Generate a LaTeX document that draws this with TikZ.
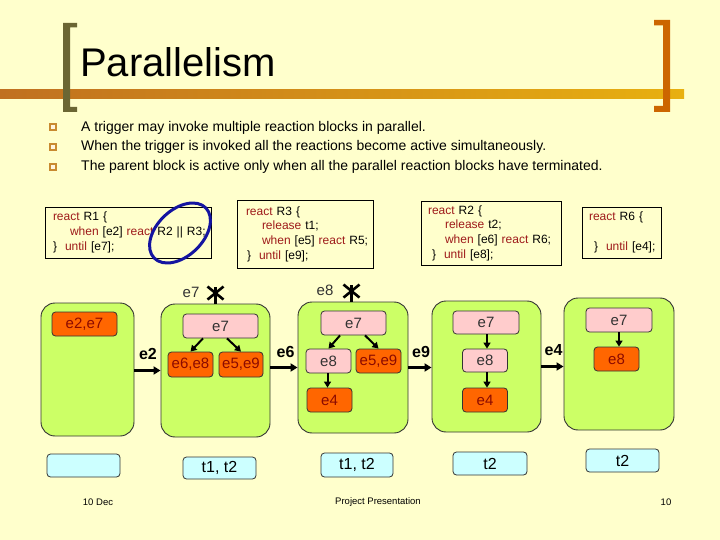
\documentclass[tikz,border=0pt]{standalone}
\usepackage{fontspec}
\setmainfont{Liberation Sans}
\usetikzlibrary{calc,arrows.meta}
\definecolor{bg}{HTML}{FFFFCC}
\definecolor{kwred}{HTML}{9E1A1A}
\definecolor{greenfill}{HTML}{CCFF66}
\definecolor{pinkfill}{HTML}{FFCCCC}
\definecolor{orangefill}{HTML}{FF6600}
\definecolor{bluefill}{HTML}{CCFFFF}
\definecolor{olivebr}{HTML}{6B6633}
\definecolor{orangebr}{HTML}{CC6600}
\definecolor{barleft}{HTML}{C07020}
\definecolor{barright}{HTML}{E8B010}
\definecolor{bulletc}{HTML}{C88A30}
\definecolor{darktxt}{HTML}{333333}
\definecolor{orangetxt}{HTML}{8B0A00}
\definecolor{ellblue}{HTML}{1414A0}
\newcommand\myfs[1]{\fontsize{#1}{#1}\selectfont}
\newcommand\kw[1]{\textcolor{kwred}{#1}}
\begin{document}
\begin{tikzpicture}[x=1pt,y=-1pt,
  bulletbox/.style={draw=bulletc, fill=bg!70!orange!30, line width=1.3pt, minimum size=6pt, inner sep=0pt},
  bullettext/.style={anchor=base west, inner sep=0pt, font=\myfs{14}},
  codebox/.style={draw=black, line width=0.8pt, inner xsep=0pt, inner ysep=0pt, align=left, font=\fontsize{12}{14.7}\selectfont},
  greenbox/.style={draw=darktxt, fill=greenfill, line width=0.9pt, rounded corners=14pt, inner sep=0pt},
  pinknode/.style={draw=darktxt, fill=pinkfill, text=darktxt, line width=0.8pt, rounded corners=3.5pt, inner sep=0pt, font=\myfs{15}},
  orangenode/.style={draw=darktxt, fill=orangefill, text=orangetxt, line width=0.8pt, rounded corners=3.5pt, inner sep=0pt, font=\myfs{15}},
  bluenode/.style={draw=darktxt, fill=bluefill, text=black, line width=0.8pt, rounded corners=3.5pt, inner sep=0pt, font=\myfs{16}},
  bigarrow/.style={line width=3pt, -{Triangle[length=7pt,width=8pt]}},
  smallarrow/.style={line width=2pt, -{Triangle[length=6pt,width=7pt]}},
  arrlabel/.style={font=\bfseries\myfs{16}, inner sep=0pt},
  killmark/.style={line width=2.6pt},
  evlabel/.style={font=\myfs{15}, text=darktxt, inner sep=0pt},
  footer/.style={font=\myfs{9.5}, inner sep=0pt}
]
\useasboundingbox (0,0) rectangle (720,540);
\fill[bg] (0,0) rectangle (720,540);

% header bar and brackets
\shade[left color=barleft, right color=barright] (0,90) rectangle (684,98.5);
\fill[olivebr] (77,23) -- (63,23) -- (63,112) -- (77,112) -- (77,107) -- (70,107) -- (70,27.5) -- (77,27.5) -- cycle;
\fill[orangebr] (654,20) -- (670,20) -- (670,112) -- (654,112) -- (654,106) -- (663,106) -- (663,25.5) -- (654,25.5) -- cycle;
\node[anchor=base west, inner sep=0pt, font=\myfs{40}] (title) at (80,77) {Parallelism};

% bullets
\node[bulletbox] (b1) at (53,127) {};
\node[bulletbox] (b2) at (53,147) {};
\node[bulletbox] (b3) at (53,167) {};
\node[bullettext] (t1) at (81,131.5) {A trigger may invoke multiple reaction blocks in parallel.};
\node[bullettext] (t2) at (81,151) {When the trigger is invoked all the reactions become active simultaneously.};
\node[bullettext] (t3) at (81,171) {The parent block is active only when all the parallel reaction blocks have terminated.};

% code boxes
\node[codebox, minimum width=166pt, text width=166pt, minimum height=51pt] (R1) at (128,232.5)
  {\hspace*{8pt}\kw{react} R1 \{\\
   \hspace*{25pt}\kw{when} [e2] \kw{react} R2 || R3;\\
   \hspace*{8pt}\}~~\kw{until} [e7];};
\node[codebox, minimum width=136pt, text width=136pt, minimum height=68pt] (R3) at (305,234)
  {\hspace*{9pt}\kw{react} R3 \{\\
   \hspace*{25pt}\kw{release} t1;\\
   \hspace*{25pt}\kw{when} [e5] \kw{react} R5;\\
   \hspace*{10pt}\}~~\kw{until} [e9];};
\node[codebox, minimum width=140pt, text width=140pt, minimum height=64pt] (R2) at (491,233)
  {\hspace*{7pt}\kw{react} R2 \{\\
   \hspace*{24pt}\kw{release} t2;\\
   \hspace*{24pt}\kw{when} [e6] \kw{react} R6;\\
   \hspace*{11pt}\}~~\kw{until} [e8];};
\node[codebox, minimum width=79pt, text width=79pt, minimum height=51pt] (R6) at (621.5,232.5)
  {\hspace*{7pt}\kw{react} R6 \{\\
   \strut\\
   \hspace*{12pt}\}~~\kw{until} [e4];};
\draw[ellblue, line width=3pt, rotate around={44:(180,233)}] (180,233) ellipse [x radius=36pt, y radius=23pt];

% green state boxes
\node[greenbox, minimum width=93pt, minimum height=133pt] (G1) at (87.5,369.5) {};
\node[greenbox, minimum width=109pt, minimum height=133pt] (G2) at (215.5,370.5) {};
\node[greenbox, minimum width=110pt, minimum height=131pt] (G3) at (353,367.5) {};
\node[greenbox, minimum width=109pt, minimum height=131pt] (G4) at (486.5,366.5) {};
\node[greenbox, minimum width=110pt, minimum height=132pt] (G5) at (619,364) {};

% inner nodes
\node[orangenode, minimum width=65pt, minimum height=24pt] (o1) at (84.5,324) {e2,e7};

\node[pinknode, minimum width=75pt, minimum height=24pt] (p2) at (220.5,326) {e7};
\node[orangenode, minimum width=45pt, minimum height=25pt] (o2a) at (190.5,364.5) {e6,e8};
\node[orangenode, minimum width=44pt, minimum height=25pt] (o2b) at (241,364.5) {e5,e9};

\node[pinknode, minimum width=65pt, minimum height=24pt] (p3) at (353.5,323) {e7};
\node[pinknode, minimum width=45pt, minimum height=24pt] (p3a) at (328.5,361) {e8};
\node[orangenode, minimum width=45pt, minimum height=24pt] (o3b) at (378.5,361) {e5,e9};
\node[orangenode, minimum width=45pt, minimum height=24pt] (o3c) at (329.5,400) {e4};

\node[pinknode, minimum width=66pt, minimum height=23pt] (p4) at (486,322.5) {e7};
\node[pinknode, minimum width=45pt, minimum height=23pt] (p4b) at (485,360.5) {e8};
\node[orangenode, minimum width=45pt, minimum height=24pt] (o4c) at (485,400) {e4};

\node[pinknode, minimum width=66pt, minimum height=24pt] (p5) at (619,320) {e7};
\node[orangenode, minimum width=45pt, minimum height=24pt] (o5) at (616.5,359) {e8};

% inner arrows
\draw[smallarrow] ($(p2.south)+(-17.5,0)$) -- (o2a.north);
\draw[smallarrow] ($(p2.south)+(6.5,0)$) -- (o2b.north);
\draw[smallarrow] ($(p3.south)+(-13.5,0)$) -- (p3a.north);
\draw[smallarrow] ($(p3.south)+(11.5,0)$) -- (o3b.north);
\draw[smallarrow] ($(p3a.south)+(-1,0)$) -- ($(p3a.south |- o3c.north)+(-1,0)$);
\draw[smallarrow] ($(p4.south)+(1,0)$) -- ($(p4.south |- p4b.north)+(1,0)$);
\draw[smallarrow] ($(p4b.south)+(2,0)$) -- ($(p4b.south |- o4c.north)+(2,0)$);
\draw[smallarrow] (p5.south) -- (p5.south |- o5.north);

% transitions
\draw[bigarrow] (G2.west -| G1.east) -- (G2.west);
\draw[bigarrow] (G3.west -| G2.east) -- (G3.west);
\draw[bigarrow] (G3.east) -- (G3.east -| G4.west);
\draw[bigarrow] (G4.east) -- (G4.east -| G5.west);
\node[arrlabel] (l2) at (148,353.5) {e2};
\node[arrlabel] (l6) at (285.5,351.5) {e6};
\node[arrlabel] (l9) at (421,351.5) {e9};
\node[arrlabel] (l4) at (553.5,350.5) {e4};

% kill marks
\draw[killmark] (G2.north) -- ++(0,-17);
\draw[killmark] ($(G2.north)+(-8,-17)$) -- ($(G2.north)+(8,-4)$);
\draw[killmark] ($(G2.north)+(8,-17)$) -- ($(G2.north)+(-8,-4)$);
\node[evlabel] (k2) at (191,292) {e7};
\draw[killmark] ($(G3.north)+(-1.5,0)$) -- ++(0,-17);
\draw[killmark] ($(G3.north)+(-9.5,-17)$) -- ($(G3.north)+(6.5,-4)$);
\draw[killmark] ($(G3.north)+(6.5,-17)$) -- ($(G3.north)+(-9.5,-4)$);
\node[evlabel] (k3) at (325,290) {e8};

% timer boxes
\node[bluenode, minimum width=73pt, minimum height=23pt] (B1) at (83.5,465.5) {};
\node[bluenode, minimum width=73pt, minimum height=22pt] (B2) at (219.5,468) {t1, t2};
\node[bluenode, minimum width=72pt, minimum height=24pt] (B3) at (357,465) {t1, t2};
\node[bluenode, minimum width=74pt, minimum height=23pt] (B4) at (490,463.5) {t2};
\node[bluenode, minimum width=73pt, minimum height=23pt] (B5) at (622.5,460.5) {t2};

% footer
\node[footer] (f1) at (98,502) {10 Dec};
\node[footer] (f2) at (378,502) {Project Presentation};
\node[footer] (f3) at (666,502) {10};
\end{tikzpicture}
\end{document}
